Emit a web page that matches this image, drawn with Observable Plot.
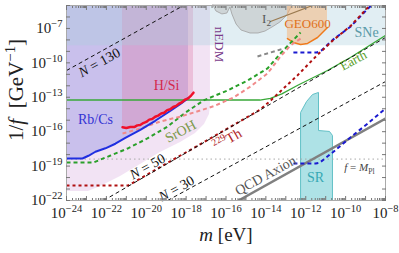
<!DOCTYPE html>
<html><head><meta charset="utf-8">
<script src="https://cdn.jsdelivr.net/npm/d3@7"></script>
<script src="https://cdn.jsdelivr.net/npm/@observablehq/plot@0.6"></script>
<style>body{margin:0;background:#fff}svg{display:block}</style>
</head><body>
<script>
// All values are [log10(m / eV), log10(1/f / GeV^-1)]
const xLabelExps = [-24,-22,-20,-18,-16,-14,-12,-10,-8];
const yLabelExps = [-22,-19,-16,-13,-10,-7];
const sneBand = [[-24,-8.5],[-8,-8.5]];
const nedmLower = [[-24,-21.22],[-22.9,-21.22],[-22.29,-20.78],[-21.29,-19.91],[-20.29,-18.86],[-19.29,-17.82],[-18.28,-16.94],[-17.53,-16.16],[-17.08,-15.37],[-16.83,-14.5],[-16.78,-13.72]];
const rbcsLine = [[-24,-18.34],[-23.2,-18.34],[-22.9,-18.1],[-22.55,-17.75],[-22.05,-17.45],[-21.55,-17.05],[-21.05,-16.55],[-20.3,-15.85],[-19.55,-15.05],[-18.8,-14.2],[-18.3,-13.6],[-17.88,-13.05]];
const hsiLine = [[-21.19,-15.62],[-21.0,-15.68],[-20.8,-15.6],[-20.6,-15.6],[-20.45,-15.45],[-20.3,-15.42],[-20.15,-15.25],[-20.0,-15.15],[-19.85,-14.95],[-19.7,-14.9],[-19.55,-14.7],[-19.4,-14.6],[-19.25,-14.42],[-19.1,-14.35],[-18.95,-14.12],[-18.8,-14.05],[-18.65,-13.85],[-18.5,-13.75],[-18.35,-13.55],[-18.2,-13.42],[-18.05,-13.2],[-17.9,-13.1],[-17.75,-12.85],[-17.63,-12.6]];
const i2Lower = [[-16.63,-5],[-16.48,-5.52],[-16.18,-5.78],[-15.93,-5.7],[-15.78,-5.17],[-15.68,-5.78],[-15.47,-6.66],[-15.22,-7.18],[-14.77,-7.44],[-14.37,-7.44],[-14.02,-7.27],[-13.67,-6.92],[-13.27,-6.48],[-12.92,-5.87],[-12.67,-5]];
const i2Line = [[-13.77,-6.39],[-11.51,-4.9]];
const geoLower = [[-12.92,-7.88],[-12.62,-8.22],[-12.26,-8.4],[-11.91,-8.31],[-11.41,-7.79],[-10.91,-6.92]];
const srShape = [[-12.26,-22],[-12.26,-14.33],[-11.96,-13.37],[-11.66,-12.76],[-11.36,-12.58],[-11.36,-15.9],[-10.81,-15.98],[-10.66,-16.33],[-10.66,-22]];
const earthLine = [[-24,-13.24],[-14.3,-13.24],[-13.77,-13.1],[-13.2,-12.7],[-12.4,-11.95],[-10.91,-10.67],[-9.76,-9.53],[-8,-7.61]];
const qcdLine = [[-15.37,-22],[-8,-14.85]];
const n130Line = [[-24,-10.67],[-18.13,-5]];
const n50Line = [[-22.14,-22],[-8,-7.79]];
const n30Line = [[-18.93,-22],[-8,-11.63]];
const mplLine = [[-24,-18.39],[-8,-18.39]];
const greenDash = [[-24,-18.69],[-22.65,-18.69],[-22.29,-18.43],[-21.79,-18.08],[-20.94,-17.47],[-19.94,-16.59],[-18.93,-15.55],[-18.03,-14.33],[-17.13,-13.28],[-15.93,-12.41],[-14.92,-11.54],[-13.92,-10.49],[-13.27,-9.18],[-12.26,-7.35]];
const salmonDash = [[-21.19,-16.16],[-20.29,-15.72],[-19.29,-15.11],[-18.28,-14.68],[-17.28,-14.15],[-16.53,-13.72],[-15.62,-13.02],[-14.77,-12.06],[-13.92,-10.93],[-13.27,-9.45],[-12.77,-8.49],[-12.26,-7.88]];
const thDash = [[-24,-20.69],[-20.9,-20.69],[-14.3,-14.1],[-13.77,-13.3],[-12.42,-11.1],[-11.41,-9.3],[-10.61,-8.0],[-9.76,-6.8],[-8.9,-5.2],[-8.7,-4.9]];
const blueDashHigh = [[-12.62,-9.1],[-11.45,-9.1],[-11.2,-8.9],[-10.61,-7.95],[-9.76,-6.85],[-8.9,-5.3],[-8.65,-4.9]];
const blueDashLow = [[-12.62,-18.77],[-11.5,-18.77],[-11.3,-18.7],[-10.61,-17.75],[-9.76,-16.5],[-8.9,-15.3],[-8.0,-13.98]];
const grayDash = [[-14.42,-9.44],[-13.1,-8.75]];
const labels = [
  {p:[-22.35,-9.97], t:"{i:N} = 130", r:-29, c:"#111", s:14},
  {p:[-18.98,-11.97], t:"H/Si", r:0, c:"#d42a4c", s:14},
  {p:[-22.55,-14.94], t:"Rb/Cs", r:0, c:"#3434d4", s:14},
  {p:[-18.28,-15.98], t:"SrOH", r:-28, c:"#7d9a4c", s:14},
  {p:[-15.93,-16.7], t:"{sup:229}Th", r:-30, c:"#b01e28", s:14},
  {p:[-19.94,-19.04], t:"{i:N} = 50", r:-29, c:"#111", s:14},
  {p:[-18.48,-20.95], t:"{i:N} = 30", r:-29, c:"#111", s:14},
  {p:[-14.02,-19.82], t:"QCD Axion", r:-29, c:"#555", s:14},
  {p:[-11.51,-19.99], t:"SR", r:0, c:"#36a8b4", s:14},
  {p:[-9.31,-19.12], t:"{i:f} = {i:M}{sub:Pl}", r:0, c:"#444", s:11},
  {p:[-9.61,-9.79], t:"Earth", r:-28, c:"#5aa02a", s:13},
  {p:[-8.95,-7.35], t:"SNe", r:0, c:"#5a9aa8", s:14},
  {p:[-11.91,-6.57], t:"GEO600", r:0, c:"#e0701a", s:13},
  {p:[-13.97,-6.13], t:"I{sub:2}", r:0, c:"#555", s:13},
  {p:[-16.33,-8.4], t:"nEDM", r:90, c:"#7a3a8a", s:13}
];

const P = v => 10 ** v;
const X = d => P(d[0]), Y = d => P(d[1]);
const fmt = d => "10{sup:" + String(Math.round(Math.log10(d))).replace("-", "\u2212") + "}";
const xMajor = d3.range(-24, -7).map(P);
const xMinor = d3.range(-24, -8).flatMap(e => d3.range(2, 10).map(k => k * P(e)));
const yMajor = d3.range(-22, -4).map(P);
const dash = (stroke, w, da, data) => Plot.line(data, {x: X, y: Y, stroke, strokeWidth: w, strokeDasharray: da, strokeLinecap: "butt", clip: true});
const solid = (stroke, w, data) => Plot.line(data, {x: X, y: Y, stroke, strokeWidth: w, clip: true});

const svg = Plot.plot({
  width: 399, height: 253,
  marginLeft: 66, marginRight: 14, marginTop: 5, marginBottom: 53,
  style: {fontFamily: "Liberation Serif", fontSize: "14px", background: "white"},
  x: {type: "log", domain: [1e-24, 1e-8]},
  y: {type: "log", domain: [1e-22, 1e-5]},
  marks: [
    Plot.areaY(nedmLower, {x: X, y1: Y, y2: 1e-5, fill: "#e6c8ea", fillOpacity: 0.5}),
    Plot.areaY(rbcsLine, {x: X, y1: Y, y2: 1e-5, fill: "#8c8ce0", fillOpacity: 0.4}),
    Plot.areaY(hsiLine, {x: X, y1: Y, y2: 1e-5, fill: "#e07aa8", fillOpacity: 0.35}),
    Plot.areaY(sneBand, {x: X, y1: Y, y2: 1e-5, fill: "#a8cfdc", fillOpacity: 0.35}),
    Plot.areaY(i2Lower, {x: X, y1: Y, y2: 1e-5, fill: "#bbbbbb", fillOpacity: 0.5, stroke: "#a0a0a0", strokeWidth: 0.8}),
    Plot.areaY(geoLower, {x: X, y1: Y, y2: 1e-5, fill: "#f7b273", fillOpacity: 0.5}),
    solid("#f07a1a", 1.5, geoLower),
    solid("#9a7a50", 1.2, i2Line),
    Plot.line(srShape, {x: X, y: Y, fill: "#aee2e6", stroke: "#62c0c6", strokeWidth: 1, clip: true}),
    dash("#aaaaaa", 1, "1.5,3", mplLine),
    dash("#111", 1, "4,3", n130Line),
    dash("#111", 1, "4,3", n30Line),
    solid("#808080", 2.5, qcdLine),
    solid("#38a838", 1.3, earthLine),
    dash("#2aa02a", 2, "4,3", greenDash),
    dash("#f08a8a", 2, "4,3", salmonDash),
    dash("#888888", 2, "4,3", grayDash),
    dash("#1a1ad0", 2, "4,3", blueDashLow),
    dash("#1a1ad0", 2, "4,3", blueDashHigh),
    dash("#b01010", 2, "3,3", thDash),
    dash("#111", 1, "4,3", n50Line),
    solid("#1f2fe0", 2, rbcsLine),
    solid("#f0102a", 2.5, hsiLine),
    Plot.text(labels, {x: d => P(d.p[0]), y: d => P(d.p[1]), text: d => d.t, rotate: d => d.r, fill: d => d.c, fontSize: d => d.s}),
    Plot.frame({stroke: "#aaaaaa"}),
    Plot.axisX({anchor: "bottom", ticks: xMajor, tickSize: -4, tickFormat: () => "", stroke: "#777", label: null}),
    Plot.axisX({anchor: "bottom", ticks: xMinor, tickSize: -2, tickFormat: () => "", stroke: "#777", label: null}),
    Plot.axisX({anchor: "top", ticks: xMajor, tickSize: -4, tickFormat: () => "", stroke: "#777", label: null}),
    Plot.axisX({anchor: "top", ticks: xMinor, tickSize: -2, tickFormat: () => "", stroke: "#777", label: null}),
    Plot.axisY({anchor: "left", ticks: yMajor, tickSize: -4, tickFormat: () => "", stroke: "#777", label: null}),
    Plot.axisY({anchor: "right", ticks: yMajor, tickSize: -4, tickFormat: () => "", stroke: "#777", label: null}),
    Plot.axisX({anchor: "bottom", ticks: xLabelExps.map(P), tickSize: 0, tickPadding: 7, tickFormat: fmt, fontSize: 15, fill: "#222", label: null}),
    Plot.axisY({anchor: "left", ticks: yLabelExps.map(P), tickSize: 0, tickPadding: 4, tickFormat: fmt, fontSize: 15, fill: "#222", label: null}),
    Plot.axisY({anchor: "left", ticks: [], tickSize: 0, label: "1/{i:f}\u2002[GeV{sup:\u22121}]", labelAnchor: "center", labelOffset: 58, labelArrow: "none", fontSize: 21, fill: "#222"}),
    Plot.text(["{i:m} [eV]"], {frameAnchor: "bottom", dy: 40, text: d => d, fontSize: 19, fill: "#222"})
  ]
});
document.body.appendChild(svg);

// rich text: italic / superscript / subscript spans
const ns = "http://www.w3.org/2000/svg";
let yLabelEl = null;
svg.querySelectorAll("text").forEach(el => {
  const s = el.textContent;
  if (!s.includes("{")) return;
  if (s.startsWith("1/")) yLabelEl = el;
  const fs = parseFloat(getComputedStyle(el).fontSize) || 14;
  el.textContent = "";
  const re = /\{(i|sup|sub):([^}]*)\}|([^{]+)/g;
  let m, shift = 0;
  while ((m = re.exec(s))) {
    const t = document.createElementNS(ns, "tspan");
    let target = 0;
    if (m[3] !== undefined) t.textContent = m[3];
    else {
      t.textContent = m[2];
      if (m[1] === "i") t.setAttribute("font-style", "italic");
      else { t.setAttribute("font-size", (fs * 0.7).toFixed(1)); target = m[1] === "sup" ? -0.4 * fs : 0.25 * fs; }
    }
    if (target !== shift) { t.setAttribute("dy", (target - shift).toFixed(1)); shift = target; }
    el.appendChild(t);
  }
});

// centre the rotated y-axis title where the reference has it
if (yLabelEl) {
  const r = yLabelEl.getBoundingClientRect(), s = svg.getBoundingClientRect();
  const dx = 15 - (r.left + r.width / 2 - s.left), dy = 90 - (r.top + r.height / 2 - s.top);
  const m = yLabelEl.parentNode.getScreenCTM().inverse();
  const vx = m.a * dx + m.c * dy, vy = m.b * dx + m.d * dy;
  yLabelEl.setAttribute("transform", `translate(${vx.toFixed(2)},${vy.toFixed(2)}) ` + (yLabelEl.getAttribute("transform") || ""));
}
</script>
</body></html>
